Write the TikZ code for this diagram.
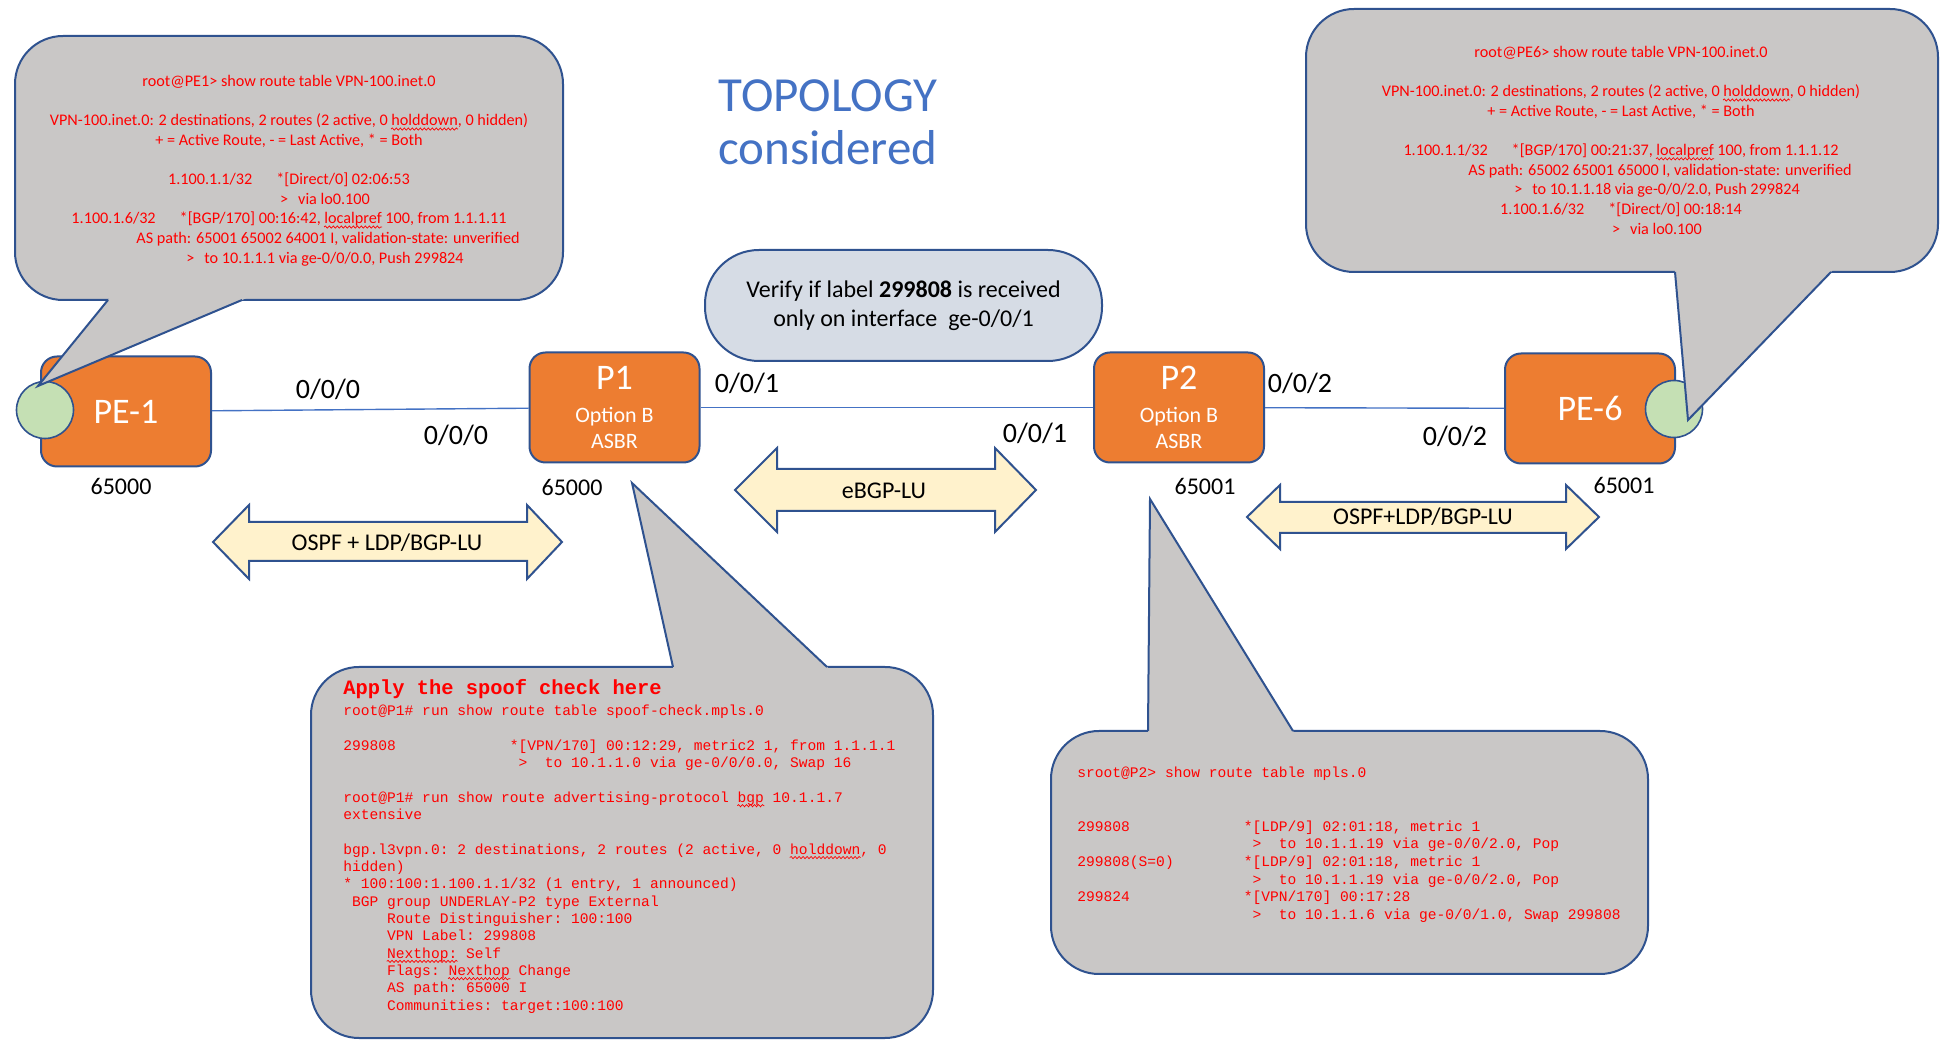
\documentclass[tikz,border=0pt]{standalone}
\usepackage{fontspec}
\setmainfont{Carlito}
\setmonofont{Liberation Mono}
\usetikzlibrary{calc,decorations.pathmorphing}
\definecolor{asbrorange}{HTML}{ED7D31}
\definecolor{frameblue}{HTML}{2F528F}
\definecolor{linkblue}{HTML}{4472C4}
\definecolor{bubblegray}{HTML}{C9C7C6}
\definecolor{loopgreen}{HTML}{C5E0B4}
\definecolor{protocream}{HTML}{FFF2CC}
\definecolor{notegray}{HTML}{D6DCE5}
\definecolor{clired}{HTML}{FF0000}
\newcommand{\monogap}[1]{\hspace*{#1\dimexpr0.6em\relax}}
\newcommand{\squig}[1]{\tikz[baseline=(w.base)]{\node[inner sep=0pt] (w) {#1};
	\draw[overlay, clired, line width=0.35pt, decorate, decoration={snake, amplitude=0.55pt, segment length=2pt}]
		([yshift=-1.6pt]w.base west) -- ([yshift=-1.6pt]w.base east);}}
\def\bubbletail(#1)(#2)(#3){\fill[bubblegray] (#2) -- ($(#2)!1.08!(#1)$) -- ($(#2)!1.08!(#3)$) -- cycle;
	\draw[bubbleedge] (#1) -- (#2) -- (#3);}
\tikzset{
	router/.style={draw=frameblue, line width=1pt, fill=asbrorange, rounded corners=8pt,
		minimum width=85pt, minimum height=55pt, inner sep=0pt, text=white, align=center,
		font=\fontsize{11}{13}\selectfont},
	loopback/.style={circle, draw=frameblue, line width=0.8pt, fill=loopgreen, minimum size=28.5pt, inner sep=0pt},
	link/.style={draw=linkblue, line width=0.7pt},
	ifname/.style={font=\fontsize{14}{16}\selectfont},
	asnum/.style={font=\fontsize{12}{14}\selectfont},
	bigarrow/.style={draw=frameblue, line width=1pt, fill=protocream},
	arrowtext/.style={font=\fontsize{12}{14}\selectfont},
	bubble/.style={draw=frameblue, line width=1pt, fill=bubblegray, rounded corners=24pt},
	bubbleedge/.style={draw=frameblue, line width=1pt},
	clitext/.style={text=clired, align=center, inner sep=0pt, font=\fontsize{8.1}{9.8}\selectfont},
	monotext/.style={text=clired, align=left, inner sep=0pt, font=\fontsize{7.3}{8.65}\selectfont\ttfamily},
}
\begin{document}
\begin{tikzpicture}[x=0.5pt, y=-0.5pt]
	%%%%% START %%%%%
	\useasboundingbox (0,0) rectangle (1950,1052);
	
	\node[text=linkblue, align=center, font=\fontsize{24.5}{26.5}\selectfont] (title) at (828,122) {TOPOLOGY\\considered};
	\node[draw=frameblue, line width=1pt, fill=notegray, rounded corners=27pt, minimum width=198.5pt, minimum height=55.5pt,
		align=center, font=\fontsize{12}{14.5}\selectfont] (verify) at (903.5,305.5) {Verify if label \textbf{299808} is received\\only on interface~ ge-0/0/1};
	
	%%%%% ROUTERS %%%%%
	\node[router, font=\fontsize{18}{20}\selectfont] (pe1) at (126,411.5) {PE-1};
	\node[router] (p1) at (614.5,407.5) {{\fontsize{18}{18}\selectfont P1}\\[3.75pt]Option B\\ASBR};
	\node[router] (p2) at (1179,407.5) {{\fontsize{18}{18}\selectfont P2}\\[3.75pt]Option B\\ASBR};
	\node[router, font=\fontsize{18}{20}\selectfont] (pe6) at (1590,408.5) {PE-6};
	
	\draw[link] (pe1) -- (p1);
	\draw[link] (p1) -- (p2);
	\draw[link] (p2) -- (pe6);
	
	\node[loopback] (pe1lo) at (45,410) {};
	\node[loopback] (pe6lo) at (1674,409) {};
	
	\node[ifname] (if1a) at (328,389) {0/0/0};
	\node[ifname] (if1b) at (456,435) {0/0/0};
	\node[ifname] (if2a) at (747,383) {0/0/1};
	\node[ifname] (if2b) at (1035,433) {0/0/1};
	\node[ifname] (if3a) at (1300,383) {0/0/2};
	\node[ifname] (if3b) at (1455,436) {0/0/2};
	
	\node[asnum] (as1) at (121,486) {65000};
	\node[asnum] (as2) at (572,487) {65000};
	\node[asnum] (as3) at (1205,486) {65001};
	\node[asnum] (as4) at (1624,485) {65001};
	
	%%%%% PROTOCOL ARROWS %%%%%
	\draw[bigarrow] (213,542) -- (249,505) -- (249,522) -- (527,522) -- (527,505) -- (562,542) -- (527,579) -- (527,561) -- (249,561) -- (249,579) -- cycle;
	\node[arrowtext] (ospfleft) at (387,543) {OSPF + LDP/BGP-LU};
	
	\draw[bigarrow] (735,490) -- (777,448) -- (777,469) -- (995,469) -- (995,448) -- (1036,490) -- (995,532) -- (995,511) -- (777,511) -- (777,532) -- cycle;
	\node[arrowtext] (ebgp) at (884,491) {eBGP-LU};
	
	\draw[bigarrow] (1247,517) -- (1280,485) -- (1280,502) -- (1566,502) -- (1566,485) -- (1599,517) -- (1566,549) -- (1566,533) -- (1280,533) -- (1280,549) -- cycle;
	\node[arrowtext] (ospfright) at (1423,517) {OSPF+LDP/BGP-LU};
	
	%%%%% CALLOUTS %%%%%
	\draw[bubble] (15,36) rectangle (563,300);
	\bubbletail(108,300)(38,386)(242,300)
	\node[clitext, anchor=north] (pe1text) at (289,75) {root@PE1> show route table VPN-100.inet.0\\
		~\\
		VPN-100.inet.0: 2 destinations, 2 routes (2 active, 0 \squig{holddown}, 0 hidden)\\
		+ = Active Route, - = Last Active, * = Both\\
		~\\
		1.100.1.1/32\hspace{12pt}*[Direct/0] 02:06:53\\
		\hspace*{36pt}>\hspace{5pt}via lo0.100\\
		1.100.1.6/32\hspace{12pt}*[BGP/170] 00:16:42, \squig{localpref} 100, from 1.1.1.11\\
		\hspace*{39pt}AS path: 65001 65002 64001 I, validation-state: unverified\\
		\hspace*{36pt}>\hspace{5pt}to 10.1.1.1 via ge-0/0/0.0, Push 299824};
	
	\draw[bubble] (1306,9) rectangle (1938,272);
	\bubbletail(1675,272)(1688,420)(1831,272)
	\node[clitext, anchor=north] (pe6text) at (1621,46) {root@PE6> show route table VPN-100.inet.0\\
		~\\
		VPN-100.inet.0: 2 destinations, 2 routes (2 active, 0 \squig{holddown}, 0 hidden)\\
		+ = Active Route, - = Last Active, * = Both\\
		~\\
		1.100.1.1/32\hspace{12pt}*[BGP/170] 00:21:37, \squig{localpref} 100, from 1.1.1.12\\
		\hspace*{39pt}AS path: 65002 65001 65000 I, validation-state: unverified\\
		\hspace*{36pt}>\hspace{5pt}to 10.1.1.18 via ge-0/0/2.0, Push 299824\\
		1.100.1.6/32\hspace{12pt}*[Direct/0] 00:18:14\\
		\hspace*{36pt}>\hspace{5pt}via lo0.100};
	
	\draw[bubble] (311,667) rectangle (933,1038);
	\bubbletail(673,667)(632,483)(827,667)
	\node[text=clired, anchor=base west, inner sep=0pt, font=\fontsize{10.2}{12}\selectfont\ttfamily\bfseries] (spoofhead) at (343,695) {Apply the spoof check here};
	\node[monotext, anchor=north west] (p1text) at (343,705) {root@P1\# run show route table spoof-check.mpls.0\\
		~\\
		299808\monogap{13}*[VPN/170] 00:12:29, metric2 1, from 1.1.1.1\\
		\monogap{20}>\monogap{2}to 10.1.1.0 via ge-0/0/0.0, Swap 16\\
		~\\
		root@P1\# run show route advertising-protocol \squig{bgp} 10.1.1.7\\
		extensive\\
		~\\
		bgp.l3vpn.0: 2 destinations, 2 routes (2 active, 0 \squig{holddown}, 0\\
		hidden)\\
		{}* 100:100:1.100.1.1/32 (1 entry, 1 announced)\\
		\monogap{1}BGP group UNDERLAY-P2 type External\\
		\monogap{5}Route Distinguisher: 100:100\\
		\monogap{5}VPN Label: 299808\\
		\monogap{5}\squig{Nexthop:} Self\\
		\monogap{5}Flags: \squig{Nexthop} Change\\
		\monogap{5}AS path: 65000 I\\
		\monogap{5}Communities: target:100:100};
	
	\draw[bubble] (1051,731) rectangle (1648,974);
	\bubbletail(1148,731)(1150,499)(1293,731)
	\node[monotext, anchor=north west, font=\fontsize{7.3}{8.85}\selectfont\ttfamily] (p2text) at (1077,767) {sroot@P2> show route table mpls.0\\
		~\\
		~\\
		299808\monogap{13}*[LDP/9] 02:01:18, metric 1\\
		\monogap{20}>\monogap{2}to 10.1.1.19 via ge-0/0/2.0, Pop\\
		299808(S=0)\monogap{8}*[LDP/9] 02:01:18, metric 1\\
		\monogap{20}>\monogap{2}to 10.1.1.19 via ge-0/0/2.0, Pop\\
		299824\monogap{13}*[VPN/170] 00:17:28\\
		\monogap{20}>\monogap{2}to 10.1.1.6 via ge-0/0/1.0, Swap 299808};
	
	%%%%% END %%%%%
\end{tikzpicture}
\end{document}
